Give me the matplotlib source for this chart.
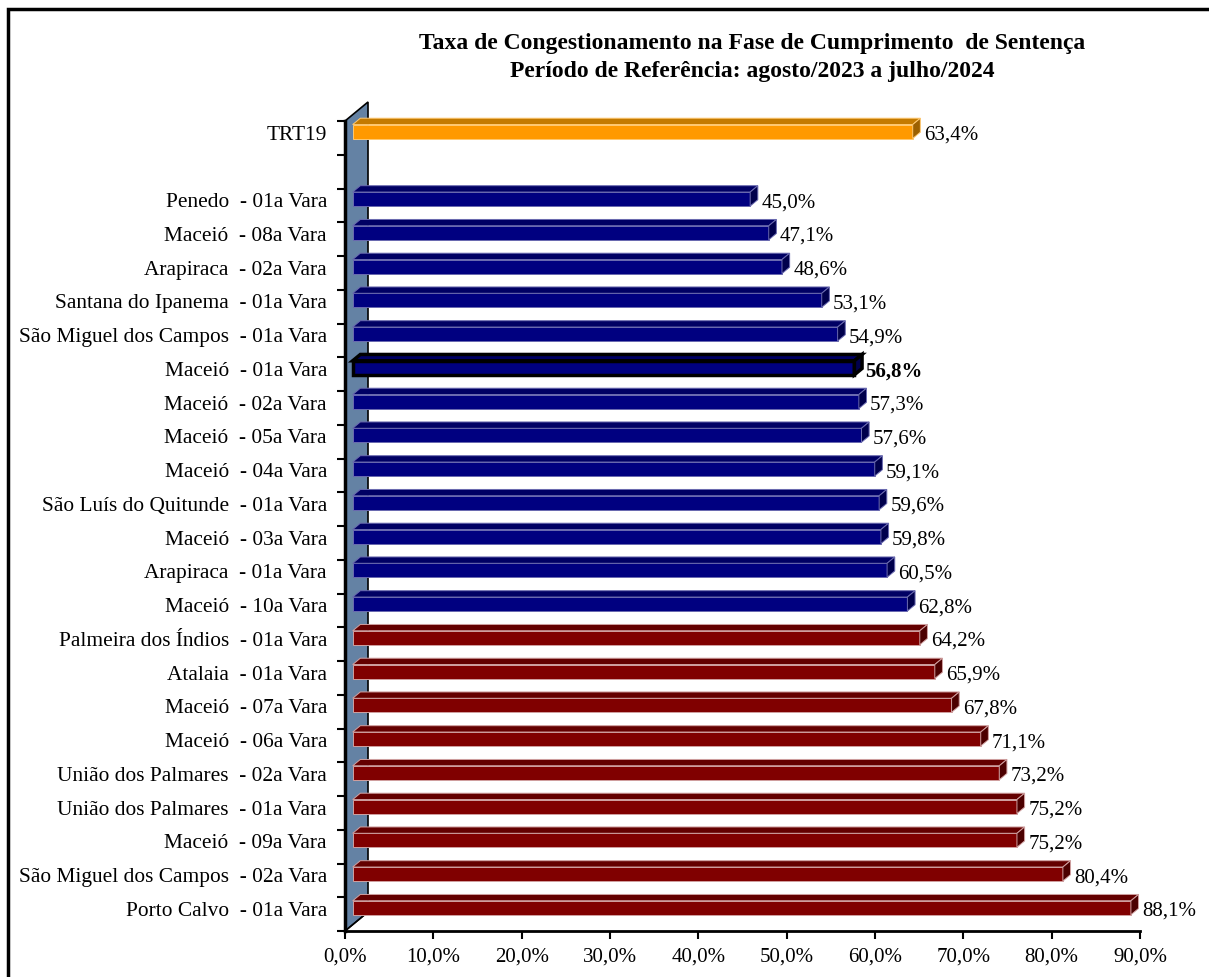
import numpy as np
import matplotlib
matplotlib.use('Agg')
import matplotlib.pyplot as plt
from matplotlib.patches import Polygon, Rectangle

# categories from top to bottom; the empty entry is the blank slot under TRT19
categories = [
    "TRT19", "",
    "Penedo  - 01a Vara", "Maceió  - 08a Vara", "Arapiraca  - 02a Vara",
    "Santana do Ipanema  - 01a Vara", "São Miguel dos Campos  - 01a Vara",
    "Maceió  - 01a Vara", "Maceió  - 02a Vara", "Maceió  - 05a Vara",
    "Maceió  - 04a Vara", "São Luís do Quitunde  - 01a Vara",
    "Maceió  - 03a Vara", "Arapiraca  - 01a Vara", "Maceió  - 10a Vara",
    "Palmeira dos Índios  - 01a Vara", "Atalaia  - 01a Vara",
    "Maceió  - 07a Vara", "Maceió  - 06a Vara",
    "União dos Palmares  - 02a Vara", "União dos Palmares  - 01a Vara",
    "Maceió  - 09a Vara", "São Miguel dos Campos  - 02a Vara",
    "Porto Calvo  - 01a Vara",
]
values = [
    63.4, None,
    45.0, 47.1, 48.6, 53.1, 54.9, 56.8, 57.3, 57.6, 59.1, 59.6, 59.8,
    60.5, 62.8, 64.2, 65.9, 67.8, 71.1, 73.2, 75.2, 75.2, 80.4, 88.1,
]
highlight = "Maceió  - 01a Vara"
xticks = np.arange(0, 91, 10)

plt.rcParams['font.family'] = ['Liberation Serif', 'DejaVu Serif']

W, H = 1209, 978
fig = plt.figure(figsize=(W / 100, H / 100), dpi=100)
fig.patches.append(Rectangle((8 / W, -0.1), 1.2, 1 - 10 / H + 0.1,
                             transform=fig.transFigure, fill=False,
                             lw=2.5, ec='black'))

x0_px, x1_px, yb_px, yt_px = 345, 1140, 932, 122
ax = fig.add_axes([x0_px / W, 1 - yb_px / H, (x1_px - x0_px) / W,
                   (yb_px - yt_px) / H])
n = len(categories)
ax.set_xlim(0, 90)
ax.set_ylim(-0.5, n - 0.5)

# depth vector of the 3D floor, in data units
px_x = 90 / (x1_px - x0_px)
px_y = n / (yb_px - yt_px)
DX, DY = 23 * px_x, 19 * px_y
bh = 14 * px_y

# back wall
wall = Polygon([(0, -0.5), (0, n - 0.5), (DX, n - 0.5 + DY), (DX, -0.5 + DY)],
               closed=True, fc='#6482A4', ec='black', lw=1.2, clip_on=False,
               zorder=1)
ax.add_patch(wall)

palettes = {
    'orange': ('#FF9900', '#C47A00', '#9C6000', '#FFC870'),
    'blue': ('#000080', '#000064', '#00004C', '#6A6AB0'),
    'red': ('#800000', '#640000', '#4C0000', '#D0A0A0'),
}
ref = values[0]
for k, (cat, v) in enumerate(zip(categories, values)):
    if v is None:
        continue
    i = n - 1 - k
    if k == 0:
        front, top, side, rim = palettes['orange']
    elif v < ref:
        front, top, side, rim = palettes['blue']
    else:
        front, top, side, rim = palettes['red']
    xa = DX / 3
    xb = v + DX / 3
    ya = i + DY / 3 - bh / 2
    yb = i + DY / 3 + bh / 2
    dx, dy = DX / 3, DY / 3
    hl = cat == highlight
    ec = 'black' if hl else rim
    lw = 2.5 if hl else 0.7
    faces = [
        ([(xa, ya), (xb, ya), (xb, yb), (xa, yb)], front),
        ([(xa, yb), (xb, yb), (xb + dx, yb + dy), (xa + dx, yb + dy)], top),
        ([(xb, ya), (xb + dx, ya + dy), (xb + dx, yb + dy), (xb, yb)], side),
    ]
    for pts, c in faces:
        ax.add_patch(Polygon(pts, closed=True, fc=c, ec=ec, lw=lw,
                             clip_on=False, zorder=3, joinstyle='miter'))
    label = f"{v:.1f}%".replace('.', ',')
    ax.text(xb + dx + 0.4, i + DY / 3 - 0.08, label, ha='left', va='center',
            fontsize=15, fontweight='bold' if hl else 'normal',
            clip_on=False, zorder=4)

# floor edge of the wall
ax.plot([0, DX], [-0.5, -0.5 + DY], color='black', lw=1, clip_on=False,
        zorder=2)

for s in ['top', 'right']:
    ax.spines[s].set_visible(False)
ax.spines['left'].set_linewidth(2.5)
ax.spines['bottom'].set_linewidth(2)
ax.spines['left'].set_zorder(5)

ax.set_xticks(xticks)
ax.set_xticklabels([f"{t:.1f}%".replace('.', ',') for t in xticks],
                   fontsize=15)
ax.tick_params(axis='x', length=6, width=1.5, pad=5)

centers = np.arange(n)
ax.set_yticks(n - 1 - centers + DY / 3)
ax.set_yticklabels(categories, fontsize=15.4)
ax.tick_params(axis='y', which='major', length=0, pad=13)
ax.set_yticks(np.arange(-0.5, n, 1.0), minor=True)
ax.tick_params(axis='y', which='minor', length=6, width=1.5)

fig.text(752 / W, 1 - 44 / H,
         "Taxa de Congestionamento na Fase de Cumprimento  de Sentença",
         ha='center', va='center', fontsize=17, fontweight='bold')
fig.text(752 / W, 1 - 71 / H,
         "Período de Referência: agosto/2023 a julho/2024",
         ha='center', va='center', fontsize=17, fontweight='bold')

fig.savefig('out.png', dpi=100)
